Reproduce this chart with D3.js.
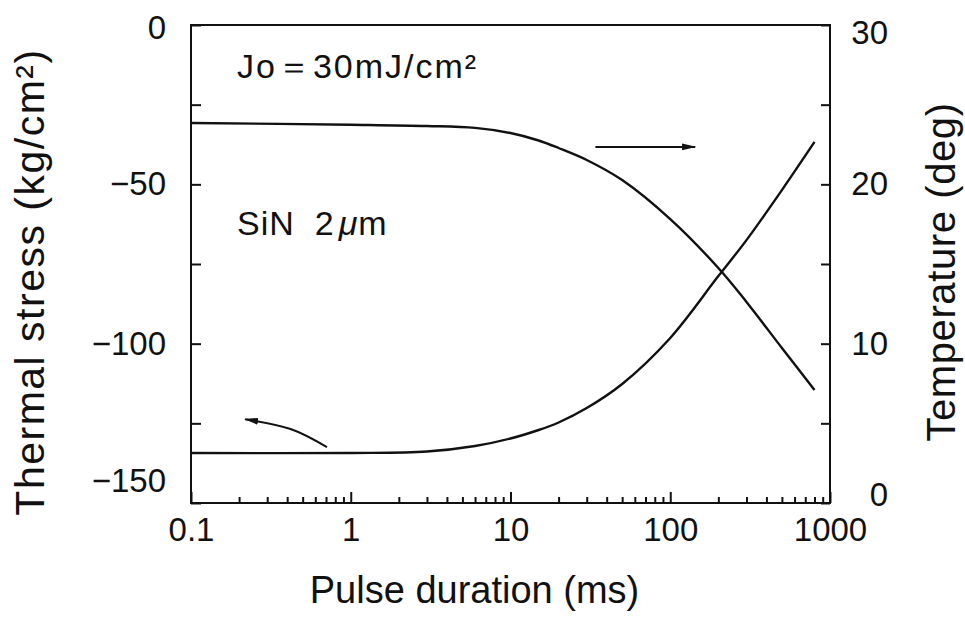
<!DOCTYPE html>
<html>
<head>
<meta charset="utf-8">
<script src="https://cdn.jsdelivr.net/npm/d3@7"></script>
<style>
  html, body { margin: 0; padding: 0; background: #fff; }
  svg { display: block; }
  text { font-family: "Liberation Sans", Arial, Helvetica, sans-serif; fill: #111; }
</style>
</head>
<body>
<svg id="chart" width="965" height="621"></svg>
<script>
// ---- data ----
const xTickValues = [0.1, 1, 10, 100, 1000];
const xTickLabels = ["0.1", "1", "10", "100", "1000"];
const stressTickValues = [0, -50, -100, -150];
const stressMinorTicks = [-25, -75, -125];
const tempTickValues = [0, 10, 20, 30];
const tempMinorTicks = [5, 15, 25];

// temperature (deg), right axis
const tempDuration = [0.1, 1, 3, 6, 10, 15, 20, 30, 50, 100, 200, 300, 500, 800];
const tempValues   = [23.85, 23.74, 23.66, 23.54, 23.22, 22.75, 22.28, 21.53, 20.27, 17.82, 14.75, 12.62, 9.73, 7.09];

// thermal stress (kg/cm2), left axis
const stressDuration = [0.1, 1, 3, 6, 10, 15, 20, 30, 50, 100, 200, 300, 500, 800];
const stressValues   = [-134.3, -134.3, -133.84, -132.11, -129.76, -127.09, -124.73, -120.2, -112.65, -98.2, -78.8, -67.5, -51.8, -36.7];

// annotation arrows (data coordinates)
const tempArrow = { x: [34, 143], y: [22.35, 22.35] };                     // right axis units
const stressArrow = { x: [0.71, 0.42, 0.218], y: [-132.5, -126.8, -123.7] }; // left axis units

// ---- layout ----
const svg = d3.select("#chart");
const L = 191, R = 830, T = 25, B = 503;

const x = d3.scaleLog().domain([0.1, 1000]).range([L, R]);
const yL = d3.scaleLinear().domain([-150, 0]).range([B, T]);
const yR = d3.scaleLinear().domain([0, 30]).range([B, T]);

const minorX = [];
[0.1, 1, 10, 100].forEach(d => { for (let k = 2; k <= 9; k++) minorX.push(d * k); });

const tickFont = 33;

// frame
svg.append("rect").attr("x", L).attr("y", T).attr("width", R - L).attr("height", B - T)
  .attr("fill", "none").attr("stroke", "#111").attr("stroke-width", 2);

// x axis minor
const gxm = svg.append("g").attr("transform", `translate(0,${B})`)
  .call(d3.axisBottom(x).tickValues(minorX).tickSize(-6).tickFormat(""));
gxm.select(".domain").remove();
// x axis major
const gx = svg.append("g").attr("transform", `translate(0,${B})`)
  .call(d3.axisBottom(x).tickValues(xTickValues).tickSize(-11).tickPadding(15)
        .tickFormat((d, i) => xTickLabels[i]));
gx.select(".domain").remove();
gx.selectAll("text").attr("font-size", tickFont).attr("fill", "#111");

// left axis
const gl = svg.append("g").attr("transform", `translate(${L},0)`)
  .call(d3.axisLeft(yL).tickValues(stressTickValues).tickSize(-10).tickPadding(25));
gl.select(".domain").remove();
gl.selectAll("text").attr("font-size", tickFont)
  .attr("dy", d => d === 0 ? "0.42em" : d === -150 ? "-0.36em" : "0.32em");
const glm = svg.append("g").attr("transform", `translate(${L},0)`)
  .call(d3.axisLeft(yL).tickValues(stressMinorTicks).tickSize(-10).tickFormat(""));
glm.select(".domain").remove();

// right axis
const gr = svg.append("g").attr("transform", `translate(${R},0)`)
  .call(d3.axisRight(yR).tickValues(tempTickValues).tickSize(-9).tickPadding(58));
gr.select(".domain").remove();
gr.selectAll("text").attr("font-size", tickFont).attr("text-anchor", "end")
  .attr("dy", d => d === 30 ? "0.55em" : d === 0 ? "0.08em" : "0.32em");
const grm = svg.append("g").attr("transform", `translate(${R},0)`)
  .call(d3.axisRight(yR).tickValues(tempMinorTicks).tickSize(-9).tickFormat(""));
grm.select(".domain").remove();

svg.selectAll(".tick line").attr("stroke", "#111").attr("stroke-width", 2);

// curves
const smooth = d3.curveCatmullRom.alpha(0.5);
const tempLine = d3.line().x(d => x(d[0])).y(d => yR(d[1])).curve(smooth);
const stressLine = d3.line().x(d => x(d[0])).y(d => yL(d[1])).curve(smooth);

svg.append("path").datum(tempDuration.map((d, i) => [d, tempValues[i]]))
  .attr("d", tempLine).attr("fill", "none").attr("stroke", "#111").attr("stroke-width", 2.4);
svg.append("path").datum(stressDuration.map((d, i) => [d, stressValues[i]]))
  .attr("d", stressLine).attr("fill", "none").attr("stroke", "#111").attr("stroke-width", 2.4);

// arrowheads
const defs = svg.append("defs");
defs.append("marker").attr("id", "ah").attr("viewBox", "0 0 14 8")
  .attr("refX", 13).attr("refY", 4).attr("markerWidth", 7).attr("markerHeight", 4)
  .attr("markerUnits", "strokeWidth").attr("orient", "auto")
  .append("path").attr("d", "M0,0.6 L14,4 L0,7.4 Z").attr("fill", "#111");

svg.append("path")
  .datum(tempArrow.x.map((d, i) => [d, tempArrow.y[i]]))
  .attr("d", d3.line().x(d => x(d[0])).y(d => yR(d[1])))
  .attr("fill", "none").attr("stroke", "#111").attr("stroke-width", 2)
  .attr("marker-end", "url(#ah)");

svg.append("path")
  .datum(stressArrow.x.map((d, i) => [d, stressArrow.y[i]]))
  .attr("d", d3.line().x(d => x(d[0])).y(d => yL(d[1])).curve(d3.curveNatural))
  .attr("fill", "none").attr("stroke", "#111").attr("stroke-width", 2)
  .attr("marker-end", "url(#ah)");

// annotations
svg.append("text").attr("x", x(0.194)).attr("y", yL(-16.6)).attr("font-size", 34)
  .attr("letter-spacing", 2).text("Jo＝30mJ/cm²");
const sin = svg.append("text").attr("x", x(0.194)).attr("y", yL(-66)).attr("font-size", 34)
  .attr("letter-spacing", 1);
sin.append("tspan").text("SiN");
sin.append("tspan").attr("dx", 20).text("2");
sin.append("tspan").attr("dx", 4).attr("font-style", "italic").text("μ");
sin.append("tspan").text("m");

// axis titles
svg.append("text").attr("x", (L + R) / 2 - 36).attr("y", 603).attr("text-anchor", "middle")
  .attr("font-size", 38).text("Pulse duration (ms)");
svg.append("text").attr("transform", "translate(44,282) rotate(-90)").attr("text-anchor", "middle")
  .attr("font-size", 41).attr("letter-spacing", 1.5).text("Thermal stress (kg/cm²)");
svg.append("text").attr("transform", "translate(955,272) rotate(-90)").attr("text-anchor", "middle")
  .attr("font-size", 40).attr("letter-spacing", 0.6).text("Temperature (deg)");
</script>
</body>
</html>
